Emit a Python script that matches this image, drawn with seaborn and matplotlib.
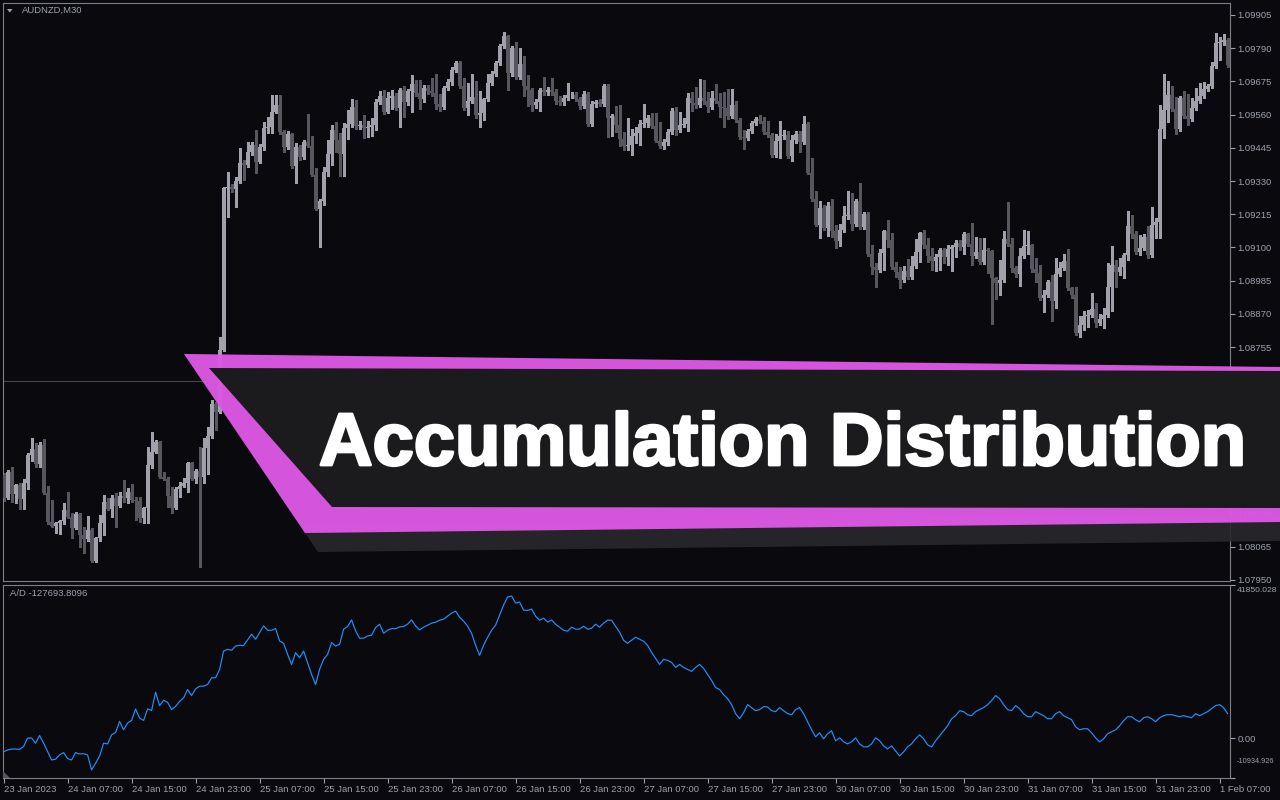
import numpy as np
import pandas as pd
import seaborn as sns
import matplotlib.pyplot as plt
import matplotlib.patheffects as pe
from matplotlib.patches import Polygon

# ---- data (AUDNZD M30, one value per bar) ----
symbol_label = "AUDNZD,M30"
indicator_label = "A/D -127693.8096"
banner_title = "Accumulation Distribution"

time_labels = ["23 Jan 2023", "24 Jan 07:00", "24 Jan 15:00", "24 Jan 23:00", "25 Jan 07:00",
               "25 Jan 15:00", "25 Jan 23:00", "26 Jan 07:00", "26 Jan 15:00", "26 Jan 23:00",
               "27 Jan 07:00", "27 Jan 15:00", "27 Jan 23:00", "30 Jan 07:00", "30 Jan 15:00",
               "30 Jan 23:00", "31 Jan 07:00", "31 Jan 15:00", "31 Jan 23:00", "1 Feb 07:00"]
tick_bars = [0, 16, 32, 48, 64, 80, 96, 112, 128, 144, 160, 176, 192, 208, 224, 240, 256, 272, 288, 304]

price_tick_labels = ["1.09905", "1.09790", "1.09675", "1.09560", "1.09445", "1.09330", "1.09215",
                     "1.09100", "1.08985", "1.08870", "1.08755", "1.08640", "1.08525", "1.08410",
                     "1.08295", "1.08180", "1.08065", "1.07950"]
# these sit under the opaque part of the banner, so their text is not shown
hidden_price_labels = ["1.08640", "1.08525", "1.08410", "1.08295"]
price_view = (1.07946, 1.09946)
level_line = 1.08638

first_open = 1.08313
closes = [
    1.08233, 1.08323, 1.08247, 1.08278, 1.08229, 1.08285, 1.08382, 1.08402, 1.08351, 1.08416,
    1.08250, 1.08150, 1.08136, 1.08146, 1.08153, 1.08191, 1.08167, 1.08129, 1.08178, 1.08105,
    1.08091, 1.08122, 1.08015, 1.08095, 1.08146, 1.08219, 1.08195, 1.08233, 1.08205, 1.08240,
    1.08233, 1.08254, 1.08226, 1.08223, 1.08164, 1.08198, 1.08347, 1.08392, 1.08427, 1.08306,
    1.08299, 1.08240, 1.08198, 1.08264, 1.08274, 1.08285, 1.08354, 1.08299, 1.08326, 1.08306,
    1.08406, 1.08447, 1.08558, 1.08531, 1.08745, 1.09305, 1.09309, 1.09302, 1.09330, 1.09392,
    1.09385, 1.09430, 1.09454, 1.09395, 1.09447, 1.09513, 1.09517, 1.09568, 1.09593, 1.09499,
    1.09447, 1.09492, 1.09382, 1.09447, 1.09413, 1.09465, 1.09451, 1.09350, 1.09233, 1.09260,
    1.09361, 1.09423, 1.09506, 1.09472, 1.09423, 1.09513, 1.09527, 1.09586, 1.09520, 1.09523,
    1.09513, 1.09517, 1.09523, 1.09603, 1.09624, 1.09568, 1.09617, 1.09624, 1.09582, 1.09645,
    1.09603, 1.09641, 1.09665, 1.09634, 1.09613, 1.09651, 1.09641, 1.09634, 1.09596, 1.09586,
    1.09651, 1.09672, 1.09714, 1.09738, 1.09658, 1.09582, 1.09606, 1.09620, 1.09558, 1.09565,
    1.09613, 1.09669, 1.09700, 1.09738, 1.09797, 1.09831, 1.09703, 1.09790, 1.09690, 1.09735,
    1.09658, 1.09645, 1.09593, 1.09603, 1.09645, 1.09638, 1.09645, 1.09638, 1.09606, 1.09603,
    1.09617, 1.09627, 1.09629, 1.09613, 1.09589, 1.09631, 1.09527, 1.09596, 1.09603, 1.09596,
    1.09658, 1.09548, 1.09555, 1.09523, 1.09475, 1.09451, 1.09454, 1.09485, 1.09496, 1.09527,
    1.09530, 1.09548, 1.09520, 1.09468, 1.09451, 1.09465, 1.09499, 1.09572, 1.09506, 1.09523,
    1.09527, 1.09617, 1.09600, 1.09593, 1.09617, 1.09606, 1.09586, 1.09617, 1.09606, 1.09586,
    1.09582, 1.09555, 1.09593, 1.09541, 1.09482, 1.09479, 1.09503, 1.09530, 1.09544, 1.09537,
    1.09499, 1.09489, 1.09420, 1.09468, 1.09485, 1.09489, 1.09416, 1.09472, 1.09492, 1.09465,
    1.09527, 1.09357, 1.09268, 1.09178, 1.09236, 1.09167, 1.09243, 1.09157, 1.09122, 1.09160,
    1.09209, 1.09212, 1.09181, 1.09260, 1.09171, 1.09216, 1.09077, 1.09032, 1.09022, 1.09081,
    1.09157, 1.09126, 1.09032, 1.09015, 1.08987, 1.09018, 1.08998, 1.09036, 1.09084, 1.09150,
    1.09108, 1.09070, 1.09053, 1.09067, 1.09091, 1.09067, 1.09095, 1.09101, 1.09115, 1.09101,
    1.09146, 1.09112, 1.09070, 1.09084, 1.09050, 1.09091, 1.09088, 1.08994, 1.08977, 1.08987,
    1.09129, 1.09112, 1.09029, 1.09008, 1.09070, 1.09105, 1.09108, 1.09025, 1.09011, 1.08925,
    1.08935, 1.08980, 1.08915, 1.09008, 1.09029, 1.09053, 1.08960, 1.08935, 1.08804, 1.08832,
    1.08863, 1.08866, 1.08887, 1.08838, 1.08852, 1.08866, 1.08963, 1.09039, 1.09015, 1.09032,
    1.09074, 1.09174, 1.09146, 1.09084, 1.09098, 1.09136, 1.09074, 1.09178, 1.09188, 1.09510,
    1.09575, 1.09627, 1.09579, 1.09510, 1.09617, 1.09555, 1.09544, 1.09582, 1.09606, 1.09624,
    1.09648, 1.09658, 1.09728, 1.09807, 1.09811, 1.09818, 1.09731,
]
# wick lengths above / below the body, in pips
upper_wick_pips = [
    0.7, 0.7, 1.7, 0.3, 0.7, 1.4, 0.7, 3.8, 2.1, 1.0,
    2.1, 2.4, 7.6, 0.3, 0.3, 2.4, 6.2, 1.4, 0.7, 0.3,
    2.8, 4.8, 0.7, 0.3, 2.8, 2.4, 1.4, 1.0, 1.7, 1.4,
    5.5, 1.4, 2.8, 1.0, 1.4, 0.3, 6.2, 6.9, 0.7, 0.3,
    1.7, 0.7, 3.1, 0.7, 1.4, 1.7, 0.3, 0.3, 0.7, 8.3,
    3.5, 3.1, 1.4, 0.7, 4.5, 0.3, 5.2, 1.0, 1.4, 5.2,
    1.0, 3.5, 1.0, 5.2, 1.0, 2.1, 3.5, 5.9, 3.5, 3.5,
    0.7, 1.0, 0.3, 1.4, 0.7, 0.7, 9.7, 3.5, 2.4, 0.7,
    1.7, 4.8, 1.7, 2.8, 2.4, 1.7, 4.8, 2.8, 2.4, 1.4,
    3.5, 2.1, 2.4, 1.0, 1.7, 2.1, 2.1, 2.1, 1.0, 0.7,
    1.4, 0.7, 3.1, 1.4, 4.5, 1.0, 1.0, 4.5, 6.6, 3.5,
    0.7, 1.0, 1.0, 0.7, 0.7, 2.8, 6.2, 8.0, 5.5, 7.6,
    0.3, 3.1, 1.0, 0.7, 0.7, 1.4, 0.3, 0.7, 2.1, 5.5,
    2.8, 3.8, 0.7, 1.0, 0.7, 4.5, 1.0, 4.2, 1.0, 1.7,
    1.0, 4.2, 1.0, 1.0, 0.7, 1.0, 0.7, 1.0, 0.7, 1.0,
    0.7, 0.7, 0.7, 3.5, 6.9, 2.4, 9.3, 2.4, 2.1, 1.4,
    6.6, 1.0, 1.7, 4.5, 6.6, 1.0, 1.0, 1.0, 1.4, 4.5,
    2.1, 1.7, 2.1, 5.5, 6.6, 6.2, 3.1, 2.4, 4.8, 2.8,
    5.2, 6.6, 5.5, 1.4, 0.7, 2.4, 0.7, 0.7, 0.7, 1.4,
    1.4, 3.8, 0.7, 2.4, 5.2, 1.7, 1.4, 1.7, 1.0, 1.0,
    2.8, 0.7, 5.2, 2.8, 2.4, 1.0, 1.4, 2.4, 2.1, 2.1,
    3.5, 8.3, 7.6, 0.7, 6.2, 0.7, 0.7, 3.1, 1.4, 1.4,
    0.3, 3.8, 2.4, 1.7, 1.7, 1.7, 4.2, 3.5, 4.5, 0.3,
    1.0, 2.4, 2.8, 1.0, 0.7, 0.7, 1.4, 0.7, 1.0, 1.0,
    0.7, 0.3, 7.3, 5.2, 4.8, 4.2, 0.7, 0.3, 0.3, 6.9,
    2.8, 12.8, 2.1, 0.7, 2.8, 5.5, 4.8, 0.3, 3.8, 2.8,
    1.7, 0.7, 2.4, 5.5, 2.1, 2.4, 4.2, 0.3, 2.8, 3.1,
    1.7, 1.7, 5.5, 2.1, 1.7, 2.4, 8.3, 6.6, 1.7, 3.1,
    0.7, 5.2, 3.8, 1.0, 4.5, 1.0, 3.8, 6.2, 1.4, 8.3,
    12.5, 4.8, 3.1, 4.2, 0.7, 2.4, 7.6, 3.5, 4.5, 4.5,
    2.4, 0.7, 1.4, 3.5, 1.7, 2.1, 0.7,
]
lower_wick_pips = [
    1.0, 0.3, 2.8, 3.1, 3.5, 3.5, 2.1, 2.1, 1.0, 1.0,
    0.3, 0.7, 0.3, 2.4, 3.8, 1.0, 0.3, 3.5, 0.3, 4.2,
    4.8, 0.7, 0.3, 0.3, 1.0, 4.2, 0.3, 2.8, 7.3, 0.3,
    1.4, 1.7, 0.7, 6.6, 1.4, 1.7, 5.2, 1.0, 0.3, 0.3,
    0.3, 3.8, 1.7, 0.3, 2.8, 0.3, 3.1, 0.3, 1.4, 31.1,
    2.1, 9.0, 0.7, 6.2, 0.3, 0.3, 10.0, 1.0, 6.2, 0.7,
    5.2, 0.7, 1.0, 3.8, 0.3, 1.0, 1.7, 2.1, 0.3, 0.7,
    1.7, 0.7, 0.7, 5.9, 1.0, 0.7, 0.3, 0.3, 0.3, 13.1,
    1.4, 1.4, 3.8, 4.2, 7.6, 7.6, 3.8, 1.0, 1.0, 1.0,
    3.5, 3.1, 3.1, 1.7, 0.7, 0.7, 0.3, 3.8, 0.7, 6.6,
    5.2, 1.0, 7.3, 1.0, 3.5, 1.0, 1.0, 1.0, 1.7, 1.4,
    0.7, 0.7, 1.0, 0.7, 0.7, 0.7, 2.4, 0.7, 1.0, 4.2,
    2.4, 0.7, 0.7, 0.7, 0.7, 0.7, 5.9, 1.0, 0.7, 0.7,
    3.5, 5.5, 2.1, 1.0, 3.1, 1.0, 1.0, 1.0, 1.0, 1.0,
    1.0, 0.7, 1.0, 0.7, 1.0, 0.7, 0.7, 0.7, 1.0, 0.7,
    0.7, 6.6, 6.2, 2.4, 2.4, 1.4, 1.4, 3.5, 2.4, 4.2,
    1.0, 1.4, 0.7, 0.3, 0.7, 1.0, 1.0, 0.7, 1.7, 0.7,
    0.7, 2.4, 2.8, 1.0, 0.7, 1.0, 1.7, 0.7, 0.7, 3.5,
    6.6, 1.0, 0.7, 0.7, 0.7, 3.8, 0.7, 0.7, 0.7, 0.7,
    0.7, 0.7, 0.7, 0.7, 5.9, 1.0, 0.7, 1.7, 1.0, 3.5,
    0.7, 0.3, 0.7, 0.3, 4.5, 0.7, 2.8, 2.1, 2.4, 1.7,
    0.7, 1.0, 2.1, 0.7, 0.7, 0.7, 0.7, 2.4, 5.9, 0.7,
    5.9, 2.4, 0.7, 1.7, 2.8, 0.7, 0.7, 0.7, 0.7, 3.5,
    1.0, 2.1, 3.1, 3.5, 4.5, 2.1, 2.8, 7.6, 3.5, 1.0,
    2.4, 0.7, 3.1, 0.7, 0.7, 0.7, 7.6, 15.9, 5.5, 4.2,
    0.7, 0.7, 1.4, 1.0, 4.2, 0.7, 2.8, 1.0, 3.1, 0.7,
    4.8, 0.7, 6.9, 2.4, 0.7, 0.7, 0.7, 1.0, 0.7, 1.4,
    1.7, 3.8, 0.7, 1.4, 0.7, 3.1, 0.7, 8.3, 5.2, 1.0,
    3.8, 1.7, 1.4, 0.7, 1.0, 0.7, 1.0, 0.7, 4.5, 5.5,
    3.1, 4.2, 0.7, 1.7, 0.7, 0.7, 2.1, 0.7, 0.7, 0.7,
    0.7, 0.7, 0.7, 0.7, 5.9, 1.0, 0.7,
]
ad_values = [
    -3795, -3245, -3050, -3000, -3100, -2340, -30, 10, -1400, 690,
    -1400, -3710, -6000, -5800, -4620, -3990, -5640, -6000, -3990, -4350,
    -4300, -4620, -8750, -6900, -4900, -1400, -1600, 880, 1510, 4540,
    2260, 4100, 4810, 7950, 5470, 4810, 7950, 7560, 12510, 8860,
    10310, 9760, 7760, 8660, 10040, 10970, 13260, 11600, 13450, 14160,
    14200, 14630, 16470, 16500, 18760, 23790, 24260, 23980, 25160, 25360,
    25300, 26810, 28380, 27010, 28850, 30660, 29480, 29450, 29950, 26540,
    25910, 22880, 20130, 23350, 21970, 23790, 20600, 17380, 14630, 18760,
    21510, 22880, 26100, 25160, 25630, 29760, 30500, 32310, 29290, 27280,
    27300, 27910, 28110, 30220, 31130, 28660, 29480, 29950, 29900, 30390,
    30500, 31130, 32310, 30660, 29560, 30310, 30860, 31410, 31680, 32230,
    32510, 33330, 34160, 34710, 33060, 31960, 30580, 28660, 25360, 22610,
    25360, 27560, 29480, 30860, 33610, 36360, 38560, 38830, 36910, 37180,
    34980, 34900, 35260, 33330, 32230, 32780, 31680, 32300, 31130, 30310,
    29480, 29210, 30310, 29760, 29800, 30580, 29760, 30030, 31130, 30310,
    31410, 32230, 32200, 30580, 28930, 26730, 25910, 26730, 27560, 27010,
    26460, 25360, 23430, 21780, 20130, 21510, 21230, 20680, 19310, 20130,
    19310, 18760, 18210, 19310, 20130, 19030, 17380, 15730, 13810, 13260,
    11880, 10780, 9130, 6660, 5280, 6930, 9130, 8310, 7480, 7760,
    8580, 8500, 7480, 7210, 8310, 7480, 6660, 6380, 7760, 8310,
    6660, 4460, 2260, 330, 1430, -220, 1160, 1980, -770, 60,
    -1050, -1600, -1050, 60, -1600, -2420, -2420, -1600, 60, -770,
    -2150, -2970, -2150, -3520, -4900, -3800, -2420, -1600, -220, 880,
    -220, -1870, -2420, -770, 610, 1980, 3360, 5280, 6110, 7480,
    7210, 6380, 6110, 7210, 7760, 8310, 9130, 10230, 11610, 10780,
    9130, 7760, 7480, 8860, 8030, 6660, 5830, 5830, 7210, 6660,
    6110, 5280, 5280, 6660, 7210, 6110, 5560, 5010, 3080, 2260,
    2530, 2530, 1430, 60, -1050, -220, 1160, 1710, 2260, 3360,
    4730, 5830, 5830, 5010, 4460, 5560, 5830, 5280, 4460, 5560,
    6110, 6380, 6380, 6110, 5830, 6110, 5830, 5560, 6660, 6110,
    6660, 7210, 8030, 8860, 9130, 8310, 6660,
]
ad_top, ad_bottom = 41850.028, -10934.926

# ---- style ----
BG = "#0a0a0e"
EDGE = "#7e7e86"
TXT = "#9da1ac"
BULL = "#a0a1ab"
BEAR = "#56565c"
MAGENTA = "#dc58e4"

sns.set_style("dark", rc={
    "axes.facecolor": BG, "figure.facecolor": BG, "axes.edgecolor": EDGE,
    "axes.grid": False, "text.color": TXT, "xtick.color": TXT, "ytick.color": TXT,
})
plt.rcParams["font.family"] = ["Liberation Sans", "DejaVu Sans"]

fig = plt.figure(figsize=(12.8, 8), dpi=100)
ax_p = fig.add_axes([3 / 1280, 1 - 581 / 800, 1227 / 1280, 578 / 800])
ax_i = fig.add_axes([3 / 1280, 1 - 778 / 800, 1227 / 1280, 193 / 800])

df = pd.DataFrame({"bar": np.arange(len(closes)), "close": closes,
                   "up": upper_wick_pips, "dn": lower_wick_pips, "ad": ad_values})
df["open"] = np.concatenate([[first_open], df["close"].values[:-1]])
body_hi = df[["open", "close"]].max(axis=1)
body_lo = df[["open", "close"]].min(axis=1)
df["high"] = body_hi + df["up"] * 1e-4
df["low"] = body_lo - df["dn"] * 1e-4
cols = np.where(df["close"] >= df["open"], BULL, BEAR)

# --- candles ---
ax_p.axhline(level_line, color="#45454c", lw=0.8, zorder=1)
ax_p.vlines(df["bar"], df["low"], df["high"], colors=cols, lw=0.8, antialiased=False, zorder=2)
ax_p.bar(df["bar"], np.maximum(body_hi - body_lo, 0.00002), bottom=body_lo, width=0.66,
         color=cols, linewidth=0, antialiased=False, zorder=3)

xlim = (-0.15, 306.6)
ax_p.set_xlim(*xlim)
ax_p.set_ylim(*price_view)
ax_p.set_yticks([float(s) for s in price_tick_labels])
ax_p.set_yticklabels(["" if s in hidden_price_labels else s for s in price_tick_labels])
ax_p.yaxis.tick_right()
ax_p.tick_params(axis="y", right=True, left=False, length=3.5, width=0.8, pad=2,
                 labelsize=6.8, colors=TXT)
ax_p.tick_params(axis="x", bottom=False, labelbottom=False)

ax_p.text(19 / 1227, 1 - 7.5 / 578, symbol_label, transform=ax_p.transAxes,
          fontsize=6.8, color=TXT, va="center", ha="left")

# --- A/D indicator ---
sns.lineplot(data=df, x="bar", y="ad", ax=ax_i, color="#1e8fff", lw=0.85, legend=False)
ax_i.set_xlabel("")
ax_i.set_ylabel("")
ax_i.set_xlim(*xlim)
ax_i.set_ylim(ad_bottom, ad_top)
ax_i.set_yticks([ad_top, 0.0, ad_bottom])
ax_i.set_yticklabels(["", "0.00", ""])
ax_i.yaxis.tick_right()
ax_i.tick_params(axis="y", right=True, left=False, length=3.5, width=0.8, pad=2,
                 labelsize=6.8, colors=TXT)
ax_i.set_xticks(tick_bars)
ax_i.set_xticklabels(time_labels)
ax_i.tick_params(axis="x", bottom=True, length=3.5, width=0.8, pad=1.5, labelsize=6.8, colors=TXT)
for lab in ax_i.get_xticklabels():
    lab.set_ha("left")
# scale end labels (shrunk a little so they stay inside the picture)
ax_i.annotate(f"{ad_top:.3f}", xy=(1, 1), xycoords="axes fraction", xytext=(4.8, -4),
              textcoords="offset points", fontsize=6.1, color=TXT, va="center", ha="left",
              annotation_clip=False)
ax_i.annotate(f"{ad_bottom:.3f}", xy=(1, 0), xycoords="axes fraction", xytext=(4.5, 12),
              textcoords="offset points", fontsize=5.3, color=TXT, va="center", ha="left",
              annotation_clip=False)
ax_i.text(7 / 1227, 1 - 8 / 193, indicator_label, transform=ax_i.transAxes,
          fontsize=6.8, color=TXT, va="center", ha="left")

for a in (ax_p, ax_i):
    for s in a.spines.values():
        s.set_color(EDGE)
        s.set_linewidth(0.8)

# --- overlay banner (pixel space) ---
ov = fig.add_axes([0, 0, 1, 1], zorder=10)
ov.set_xlim(0, 1280)
ov.set_ylim(800, 0)
ov.axis("off")
ov.patch.set_alpha(0)

ov.add_patch(Polygon([(7, 9), (12.5, 9), (9.75, 12.5)], closed=True, color=TXT, lw=0))
ov.add_patch(Polygon([(3, 771), (3, 778), (10, 778)], closed=True, color="#55555c", lw=0))

ov.add_patch(Polygon([(300, 525), (1280, 515), (1280, 541), (318, 552)], closed=True,
                     color="#29292d", alpha=0.9, lw=0))
ov.add_patch(Polygon([(184, 354), (1280, 367), (1280, 522), (305, 533)], closed=True,
                     color=MAGENTA, alpha=0.97, lw=0))
ov.add_patch(Polygon([(209, 368), (1280, 371), (1280, 508), (332, 507)], closed=True,
                     color="#1b1b1e", lw=0))
ov.text(319, 465, banner_title, fontsize=53.4, fontweight="bold", color="white",
        family=["Liberation Sans", "DejaVu Sans"], ha="left", va="baseline",
        path_effects=[pe.withStroke(linewidth=2.0, foreground="white")])

fig.savefig("out.png", dpi=100, facecolor=BG)
